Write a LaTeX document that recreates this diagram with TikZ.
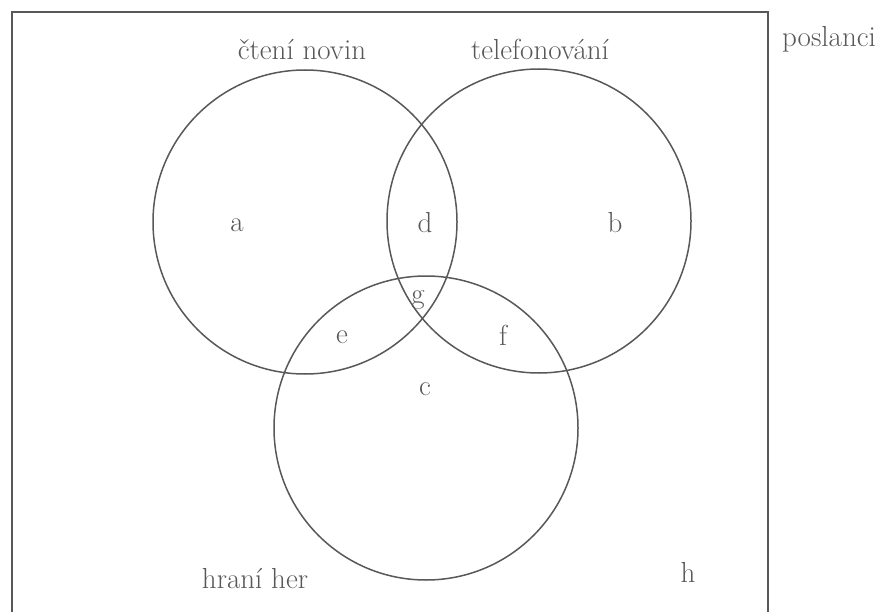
\documentclass[tikz,border=0pt]{standalone}
\usepackage{tikz}
\usetikzlibrary{positioning}
\definecolor{linka}{HTML}{585858}

\begin{document}
\begin{tikzpicture}[
  x=1pt, y=-1pt,
  every node/.style={font=\fontsize{29}{34}\selectfont, text=linka},
  mnozina/.style={
    draw=linka, circle, line width=1.5pt,
    minimum size=304pt, inner sep=0pt
  },
  popis/.style={anchor=base, inner sep=0pt}
]
\useasboundingbox (0,0) rectangle (888,612);
\clip (0,0) rectangle (888,612);

% Universe
\draw[linka, line width=1.5pt] (12,12) rectangle (768,640);
\node[popis] (poslanci) at (829,47) {poslanci};

% Sets
\node[mnozina] (noviny) at (305,222) {};
\node[mnozina] (telefon) at (539,221) {};
\node[mnozina] (hry) at (426,428) {};

\node[popis] (lnoviny) at (302,60) {čtení novin};
\node[popis] (ltelefon) at (540,60) {telefonování};
\node[popis] (lhry) at (255,588) {hraní her};

% Regions
\node[popis] (a) at (237,232) {a};
\node[popis] (b) at (615,233) {b};
\node[popis] (c) at (425,395) {c};
\node[popis] (d) at (425,233) {d};
\node[popis] (e) at (342,343) {e};
\node[popis] (f) at (503,345) {f};
\node[popis] (g) at (418,303) {g};
\node[popis] (h) at (688,582) {h};
\end{tikzpicture}
\end{document}
